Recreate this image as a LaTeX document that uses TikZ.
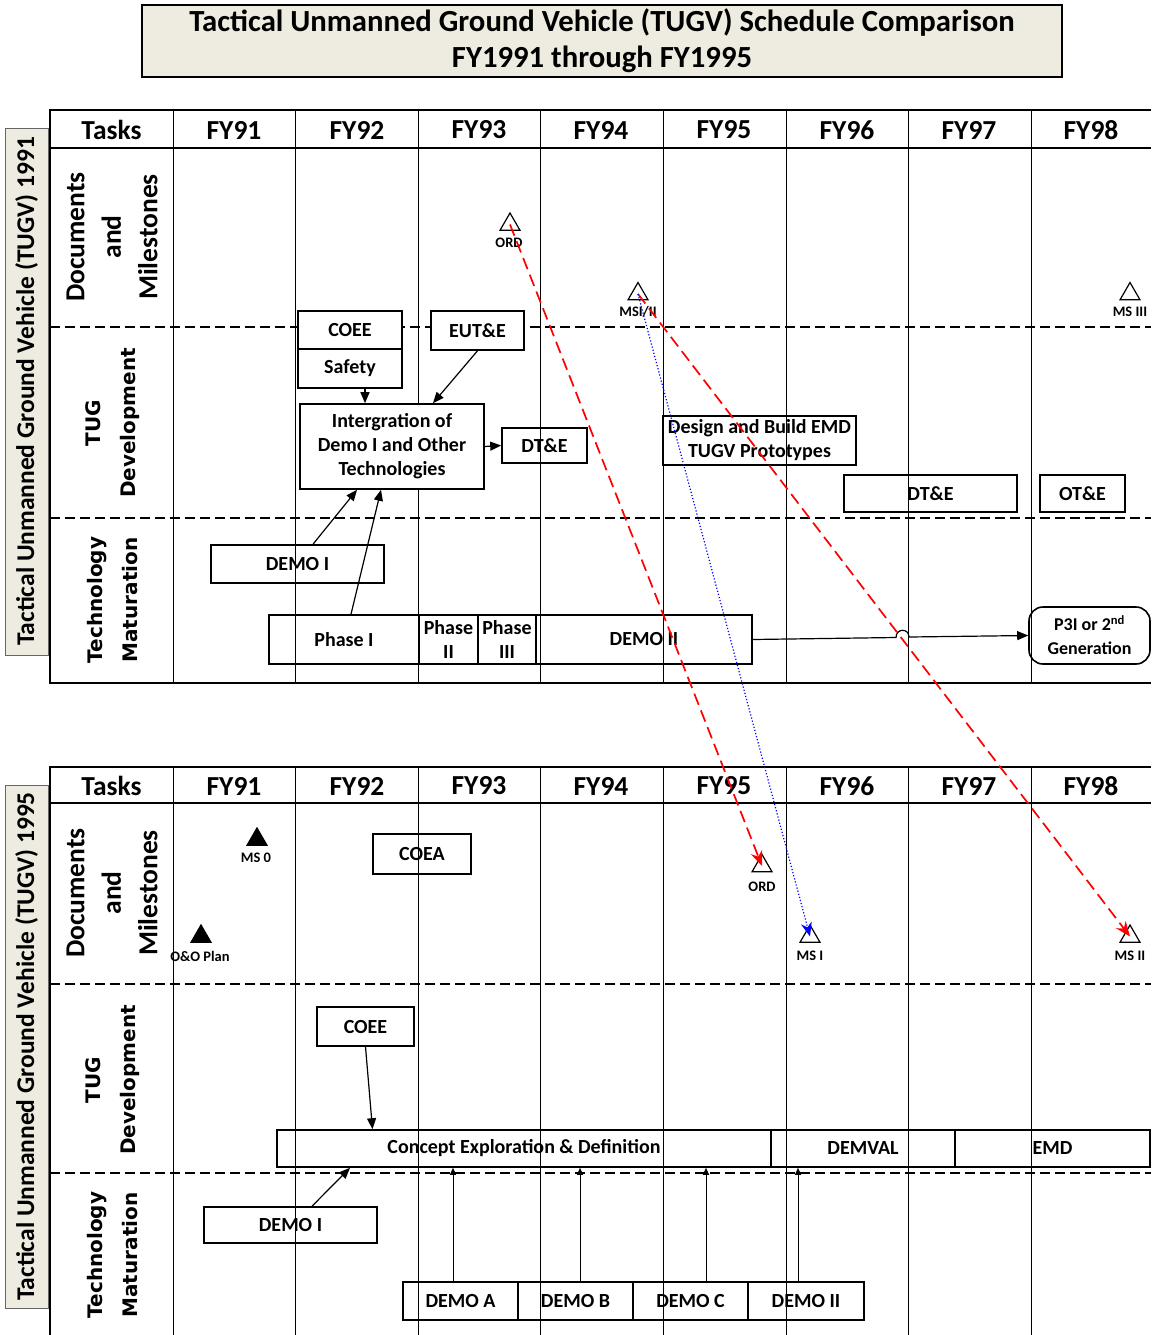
\documentclass[tikz,border=0pt]{standalone}
\usepackage{fontspec}
\setmainfont{Carlito}
\newfontfamily\dejavu{DejaVu Sans}
\usetikzlibrary{shapes.geometric,arrows.meta}
\definecolor{beige}{RGB}{238,236,225}
\tikzset{
 fr/.style={line width=2.4pt},
 col/.style={line width=0.9pt},
 hdr/.style={line width=1.4pt},
 dsh/.style={line width=2.2pt, dash pattern=on 10pt off 5pt},
 hd/.style={font=\fontsize{27.5}{30}\selectfont\bfseries, inner sep=0pt},
 bx/.style={draw, line width=1.6pt, inner sep=0pt, align=center, font=\fontsize{20}{24}\selectfont\bfseries},
 wbx/.style={bx, fill=white},
 sm/.style={font=\fontsize{14.5}{16}\selectfont\bfseries, inner sep=0pt},
 tri/.style={regular polygon, regular polygon sides=3, draw, line width=1.2pt, minimum size=23pt, inner sep=0pt},
 ftri/.style={tri, fill=black},
 arr/.style={line width=1.2pt, -{Triangle[length=11pt,width=9pt]}},
 sarr/.style={line width=0.9pt, -{Triangle[length=7pt,width=6pt]}},
 rarr/.style={red, line width=1.7pt, dash pattern=on 12pt off 6pt, -{Stealth[length=15pt,width=12pt]}},
 barr/.style={blue, line width=1.2pt, dotted, -{Stealth[length=14pt,width=11pt]}},
 side/.style={draw=black!60, fill=beige, line width=0.8pt, rotate=90, inner sep=0pt, font=\fontsize{25.5}{28}\selectfont\bfseries},
 rowA/.style={rotate=90, align=center, inner sep=0pt, font=\fontsize{27.5}{36.5}\selectfont\bfseries},
 rowB/.style={rotate=90, align=center, inner sep=0pt, font=\dejavu\fontsize{20}{35}\selectfont\bfseries},
}
\begin{document}
\begin{tikzpicture}[x=1pt,y=-1pt]
\useasboundingbox (0,0) rectangle (1151,1335);

% title
\node[draw, fill=beige, line width=1.2pt, minimum width=920pt, minimum height=72pt, align=center,
  font=\fontsize{30.7}{36}\selectfont\bfseries] (title) at (602,41)
  {Tactical Unmanned Ground Vehicle (TUGV) Schedule Comparison\\FY1991 through FY1995};

% ===== top table =====
\foreach \x in {173,295,418,540,663,786,908,1031} \draw[col] (\x,110) -- (\x,683);
\draw[hdr] (50,148) -- (1151,148);
\draw[dsh] (50,327) -- (1151,327);
\draw[dsh] (50,518) -- (1151,518);
\draw[fr] (1151,110) -- (50,110) -- (50,683) -- (1151,683);

\node[side, minimum width=527pt, minimum height=43pt] (sideT) at (26.5,391.5)
  {Tactical Unmanned Ground Vehicle (TUGV) 1991};

\foreach \lab/\x [count=\i] in {Tasks/111.5,FY91/234,FY92/357,FY93/479,FY94/601,FY95/724,FY96/847,FY97/969,FY98/1091}
  \node[hd] (ht\i) at (\x,130) {\lab};

\node[rowA] (docT) at (112,237) {Documents\\and\\Milestones};
\node[rowB] (tugT) at (112.5,423) {TUG\\Development};
\node[rowB] (tecT) at (112.5,600) {Technology\\Maturation};

% milestones top
\node[tri] (ordT) at (510,224.5) {};
\node[sm] (ordTl) at (509,243) {ORD};
\node[tri] (msiT) at (638,294) {};
\node[sm] (msiTl) at (638,312) {MSI/II};
\node[tri] (ms3T) at (1130,294) {};
\node[sm] (ms3Tl) at (1130,312) {MS III};

% boxes top
\node[wbx, minimum width=104pt, minimum height=38pt] (coee) at (350,330) {COEE};
\node[wbx, minimum width=104pt, minimum height=39pt] (safety) at (350,368.5) {Safety};
\node[wbx, minimum width=93pt, minimum height=39pt] (eut) at (477.5,330.5) {EUT\&E};
\node[wbx, minimum width=184pt, minimum height=85pt] (integ) at (392,446.5)
  {Intergration of\\Demo I and Other\\Technologies};
\node[bx, minimum width=85pt, minimum height=35pt] (dt1) at (544.5,445.5) {DT\&E};
\node[bx, minimum width=193pt, minimum height=49pt] (design) at (759.5,440.5)
  {Design and Build EMD\\TUGV Prototypes};
\node[bx, minimum width=173pt, minimum height=37pt] (dt2) at (930.5,493.5) {DT\&E};
\node[bx, minimum width=85pt, minimum height=37pt] (ot) at (1082.5,493.5) {OT\&E};
\node[bx, minimum width=173pt, minimum height=38pt] (demo1) at (297.5,564) {DEMO I};
\node[bx, minimum width=150pt, minimum height=49pt] (ph1) at (344,639.5) {Phase I};
\node[bx, minimum width=59pt, minimum height=49pt] (ph2) at (448.5,639.5) {Phase\\II};
\node[bx, minimum width=58pt, minimum height=49pt] (ph3) at (507,639.5) {Phase\\III};
\node[bx, minimum width=216pt, minimum height=49pt] (dm2) at (644,639.5) {DEMO II};
\node[bx, rounded corners=14pt, minimum width=121pt, minimum height=57pt,
  font=\fontsize{18}{24}\selectfont\bfseries] (p3i) at (1089.5,635.5)
  {P3I or 2\textsuperscript{nd}\\Generation};

% arrows top
\draw[arr] ([xshift=15pt]safety.south) -- ([xshift=15pt]safety.south |- integ.north);
\draw[arr] (eut.south) -- ([xshift=41pt]integ.north);
\draw[arr] (integ.east) -- (dt1.west);
\draw[arr] ([xshift=15.5pt]demo1.north) -- ([xshift=-35pt]integ.south);
\draw[arr] ([xshift=7pt]ph1.north) -- ([xshift=-11pt]integ.south);
\draw[arr] (dm2.east) -- (896,637.5) .. controls (896,628) and (909,628) .. (909,637) -- (p3i.west);

% ===== bottom table =====
\foreach \x in {173,295,418,540,663,786,908,1031} \draw[col] (\x,767) -- (\x,1335);
\draw[hdr] (50,803) -- (1151,803);
\draw[dsh] (50,984) -- (1151,984);
\draw[dsh] (50,1173) -- (1151,1173);
\draw[fr] (1151,767) -- (50,767) -- (50,1335);

\node[side, minimum width=523pt, minimum height=43pt] (sideB) at (26.5,1046.5)
  {Tactical Unmanned Ground Vehicle (TUGV) 1995};

\foreach \lab/\x [count=\i] in {Tasks/111.5,FY91/234,FY92/357,FY93/479,FY94/601,FY95/724,FY96/847,FY97/969,FY98/1091}
  \node[hd] (hb\i) at (\x,786) {\lab};

\node[rowA] (docB) at (112,893) {Documents\\and\\Milestones};
\node[rowB] (tugB) at (112.5,1080) {TUG\\Development};
\node[rowB] (tecB) at (112.5,1255) {Technology\\Maturation};

% milestones bottom
\node[ftri] (ms0) at (257,839.5) {};
\node[sm] (ms0l) at (256,858) {MS 0};
\node[ftri] (oo) at (201,936.5) {};
\node[sm] (ool) at (200,956) {O\&O Plan};
\node[tri] (ordB) at (762,866) {};
\node[sm] (ordBl) at (762,887) {ORD};
\node[tri] (msI) at (810,936.5) {};
\node[sm] (msIl) at (810,956) {MS I};
\node[tri] (msII) at (1130,936.5) {};
\node[sm] (msIIl) at (1130,956) {MS II};

% boxes bottom
\node[bx, minimum width=98pt, minimum height=40pt] (coea) at (422,854) {COEA};
\node[wbx, minimum width=97pt, minimum height=39pt] (coee2) at (365.5,1026.5) {COEE};
\node[bx, minimum width=494pt, minimum height=37pt] (ced) at (524,1148.5) {Concept Exploration \& Definition};
\node[bx, minimum width=184pt, minimum height=37pt] (demval) at (863,1148.5) {DEMVAL};
\node[bx, minimum width=195pt, minimum height=37pt] (emd) at (1052.5,1148.5) {EMD};
\node[bx, minimum width=173pt, minimum height=36pt] (demo1b) at (290.5,1225) {DEMO I};
\node[bx, minimum width=115pt, minimum height=38pt] (dA) at (460.5,1301) {DEMO A};
\node[bx, minimum width=115pt, minimum height=38pt] (dB) at (575.5,1301) {DEMO B};
\node[bx, minimum width=115pt, minimum height=38pt] (dC) at (690.5,1301) {DEMO C};
\node[bx, minimum width=116pt, minimum height=38pt] (dII) at (806,1301) {DEMO II};

% arrows bottom
\draw[arr] (coee2.south) -- ([xshift=7pt]coee2.south |- ced.north);
\draw[arr] ([xshift=21.5pt]demo1b.north) -- ([xshift=-174pt]ced.south);
\draw[sarr] ([xshift=-7.5pt]dA.north) -- ([xshift=-7.5pt]dA.north |- ced.south);
\draw[sarr] ([xshift=4.5pt]dB.north) -- ([xshift=4.5pt]dB.north |- ced.south);
\draw[sarr] ([xshift=15.5pt]dC.north) -- ([xshift=15.5pt]dC.north |- ced.south);
\draw[sarr] ([xshift=-8pt]dII.north) -- ([xshift=-8pt]dII.north |- ced.south);

% comparison connectors
\draw[rarr] (ordT.center) -- (ordB.center);
\draw[rarr] (msiT.center) -- (msII.center);
\draw[barr] (msiT.center) -- (msI.center);
\end{tikzpicture}
\end{document}
